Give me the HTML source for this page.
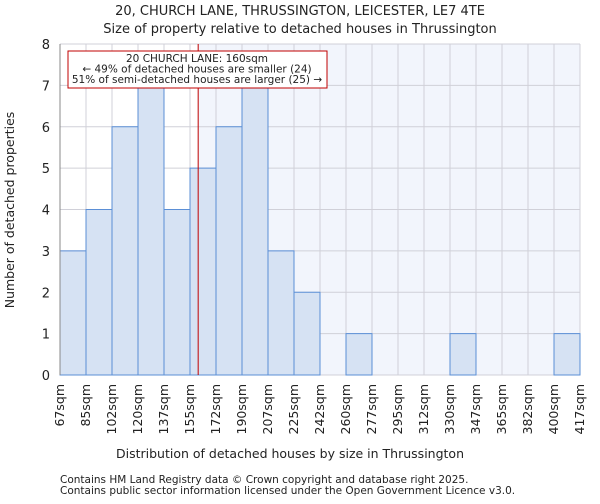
<!DOCTYPE html>
<html><head><meta charset="utf-8"><style>
body{margin:0;background:#fff;font-family:"DejaVu Sans","Liberation Sans",sans-serif}
svg text{font-family:"DejaVu Sans","Liberation Sans",sans-serif;fill:#222}
</style></head><body>
<svg id="c" width="600" height="500">
<text x="300" y="15" font-size="13" text-anchor="middle">20, CHURCH LANE, THRUSSINGTON, LEICESTER, LE7 4TE</text>
<text x="300" y="33" font-size="13" text-anchor="middle">Size of property relative to detached houses in Thrussington</text>
<g id="plot"></g>
<text x="290" y="458" font-size="12.5" text-anchor="middle">Distribution of detached houses by size in Thrussington</text>
<text transform="translate(14,210) rotate(-90)" font-size="12.5" text-anchor="middle">Number of detached properties</text>
<text x="60" y="483" font-size="10.5">Contains HM Land Registry data © Crown copyright and database right 2025.</text>
<text x="60" y="494" font-size="10.5">Contains public sector information licensed under the Open Government Licence v3.0.</text>
</svg>
<script>
const binEdges=[67,85,102,120,137,155,172,190,207,225,242,260,277,295,312,330,347,365,382,400,417];
const counts=[3,4,6,7,4,5,6,7,3,2,0,1,0,0,0,1,0,0,0,1];
const yTicks=[0,1,2,3,4,5,6,7,8];
const propertySize=160;
const X0=60,X1=580,Y0=375,Y1=44,NS="http://www.w3.org/2000/svg";
const xs=i=>X0+(X1-X0)*i/(binEdges.length-1);
const xv=v=>X0+(X1-X0)*(v-binEdges[0])/(binEdges[binEdges.length-1]-binEdges[0]);
const ys=v=>Y0-(Y0-Y1)*v/8;
const g=document.getElementById('plot');
function mk(t,a){const e=document.createElementNS(NS,t);for(const k in a)e.setAttribute(k,a[k]);g.appendChild(e);return e;}
const lx=xv(propertySize);
let r=mk('rect',{x:lx,y:Y1,width:X1-lx,height:Y0-Y1,fill:'#f2f5fc'});


binEdges.forEach((b,i)=>{const l=mk('line',{x1:xs(i),x2:xs(i),y1:Y1,y2:Y0,stroke:'#d0d0d8','stroke-width':1});

});
yTicks.forEach(t=>{const l=mk('line',{x1:X0,x2:X1,y1:ys(t),y2:ys(t),stroke:'#d0d0d8','stroke-width':1});


const tx=mk('text',{x:X0-10,y:ys(t)+5,'font-size':13,'text-anchor':'end'});tx.textContent=t;

});
counts.forEach((c,i)=>{if(!c)return;const b=mk('rect',{x:xs(i),y:ys(c),width:xs(i+1)-xs(i),height:Y0-ys(c),fill:'#d6e2f3',stroke:'#5b8fd6','stroke-width':1});

});
binEdges.forEach((b,i)=>{const x=xs(i)+4;const t=mk('text',{transform:`translate(${x},384) rotate(-90)`,'font-size':12.5,'text-anchor':'end'});t.textContent=b+'sqm';

});
const ax=mk('line',{x1:X0,x2:X0,y1:Y1,y2:Y0,stroke:'#888'});


const pl=mk('line',{x1:lx,x2:lx,y1:Y1,y2:Y0,stroke:'#c00000','stroke-width':1});


const bx=mk('rect',{x:68,y:51,width:259,height:37,fill:'#fff',stroke:'#c00000','stroke-width':1});


["20 CHURCH LANE: 160sqm","← 49% of detached houses are smaller (24)","51% of semi-detached houses are larger (25) →"].forEach((s,i)=>{const t=mk('text',{x:197,y:62+i*10.5,'font-size':10.5,'text-anchor':'middle'});t.textContent=s;

});
</script>
</body></html>
